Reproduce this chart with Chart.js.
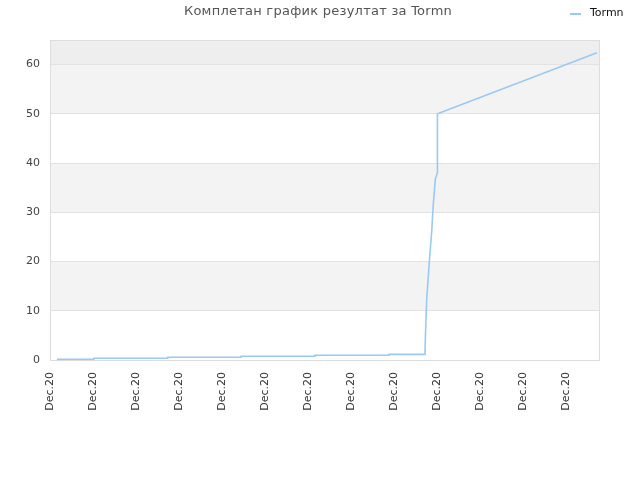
<!DOCTYPE html>
<html>
<head>
<meta charset="utf-8">
<script src="https://cdn.jsdelivr.net/npm/chart.js@4"></script>
<style>
  body { margin: 0; background: #fff; }
  #wrap { width: 640px; height: 480px; }
</style>
</head>
<body>
<div id="wrap"><canvas id="lineChart" width="640" height="480"></canvas></div>
<script>
// chart data
var seriesName = 'Tormn';
var chartTitle = 'Комплетан график резултат за Tormn';
var xTickValues = [0, 1, 2, 3, 4, 5, 6, 7, 8, 9, 10, 11, 12];
var xTickLabel = 'Dec.20';
var yTickValues = [0, 10, 20, 30, 40, 50, 60];
var xValues = [0.16, 1.02, 1.02, 2.74, 2.74, 4.44, 4.44, 6.16, 6.16, 7.88, 7.88, 8.72, 8.73, 8.76, 8.82, 8.88, 8.91, 8.96, 9.01, 9.01, 12.72];
var yValues = [0.15, 0.15, 0.35, 0.35, 0.55, 0.55, 0.75, 0.75, 0.95, 0.95, 1.15, 1.15, 4.7, 12.2, 19.8, 26.5, 31.2, 36.7, 38.0, 50.0, 62.4];

var points = xValues.map(function(x, i) {
    return { x: x, y: yValues[i] };
});

// grey bands behind the plot + border box, title and legend
var bandsPlugin = {
    id: 'bands',
    beforeDraw: function(chart) {
        var ctx = chart.ctx;
        var area = chart.chartArea;
        var y = chart.scales.y;
        var bands = [[10, 20, '#f3f3f3'], [30, 40, '#f3f3f3'], [50, 60, '#f3f3f3'], [60, 65, '#eeeeee']];
        ctx.save();
        bands.forEach(function(b) {
            var top = y.getPixelForValue(b[1]);
            var bottom = y.getPixelForValue(b[0]);
            ctx.fillStyle = b[2];
            ctx.fillRect(area.left, top, area.right - area.left, bottom - top);
        });
        ctx.restore();
    },
    afterDraw: function(chart) {
        var ctx = chart.ctx;
        var area = chart.chartArea;
        ctx.save();
        ctx.strokeStyle = '#dddddd';
        ctx.lineWidth = 1;
        ctx.strokeRect(area.left + 0.5, area.top + 0.5, area.right - area.left - 1, area.bottom - area.top);

        // title
        ctx.fillStyle = '#555555';
        ctx.font = '13px "DejaVu Sans"';
        ctx.letterSpacing = '0.25px';
        ctx.textAlign = 'center';
        ctx.textBaseline = 'middle';
        ctx.fillText(chartTitle, 318, 12);
        ctx.letterSpacing = '0px';

        // legend
        ctx.strokeStyle = '#99c9f5';
        ctx.lineWidth = 2;
        ctx.beginPath();
        ctx.moveTo(570, 14);
        ctx.lineTo(581, 14);
        ctx.stroke();
        ctx.fillStyle = '#111111';
        ctx.font = '11px "DejaVu Sans"';
        ctx.textAlign = 'left';
        ctx.fillText(seriesName, 590, 13);
        ctx.restore();
    }
};

Chart.defaults.font.family = '"DejaVu Sans"';
Chart.defaults.font.size = 11;

var ctx = document.getElementById('lineChart').getContext('2d');
window.myChart = new Chart(ctx, {
    type: 'line',
    data: {
        datasets: [{
            label: seriesName,
            data: points,
            borderColor: '#99c9f5',
            borderWidth: 1.6,
            pointRadius: 0,
            tension: 0,
            fill: false
        }]
    },
    options: {
        responsive: false,
        animation: false,
        layout: { padding: { left: 0, right: 40, top: 40, bottom: 0 } },
        plugins: {
            legend: { display: false },
            title: { display: false },
            tooltip: { enabled: false }
        },
        scales: {
            x: {
                type: 'linear',
                min: 0,
                max: 550 / 43,
                afterBuildTicks: function(scale) {
                    scale.ticks = xTickValues.map(function(v) { return { value: v }; });
                },
                afterFit: function(scale) { scale.height = 120; },
                grid: { display: false, drawTicks: false },
                border: { display: false },
                ticks: {
                    autoSkip: false,
                    minRotation: 90,
                    maxRotation: 90,
                    padding: 12,
                    color: '#333333',
                    callback: function() { return xTickLabel; }
                }
            },
            y: {
                min: 0,
                max: 65,
                afterBuildTicks: function(scale) {
                    scale.ticks = yTickValues.map(function(v) { return { value: v }; });
                },
                afterFit: function(scale) { scale.width = 50; },
                grid: { color: '#e2e2e2', drawTicks: false },
                border: { display: false },
                ticks: {
                    padding: 10,
                    color: '#444444'
                }
            }
        }
    },
    plugins: [bandsPlugin]
});
</script>
</body>
</html>
